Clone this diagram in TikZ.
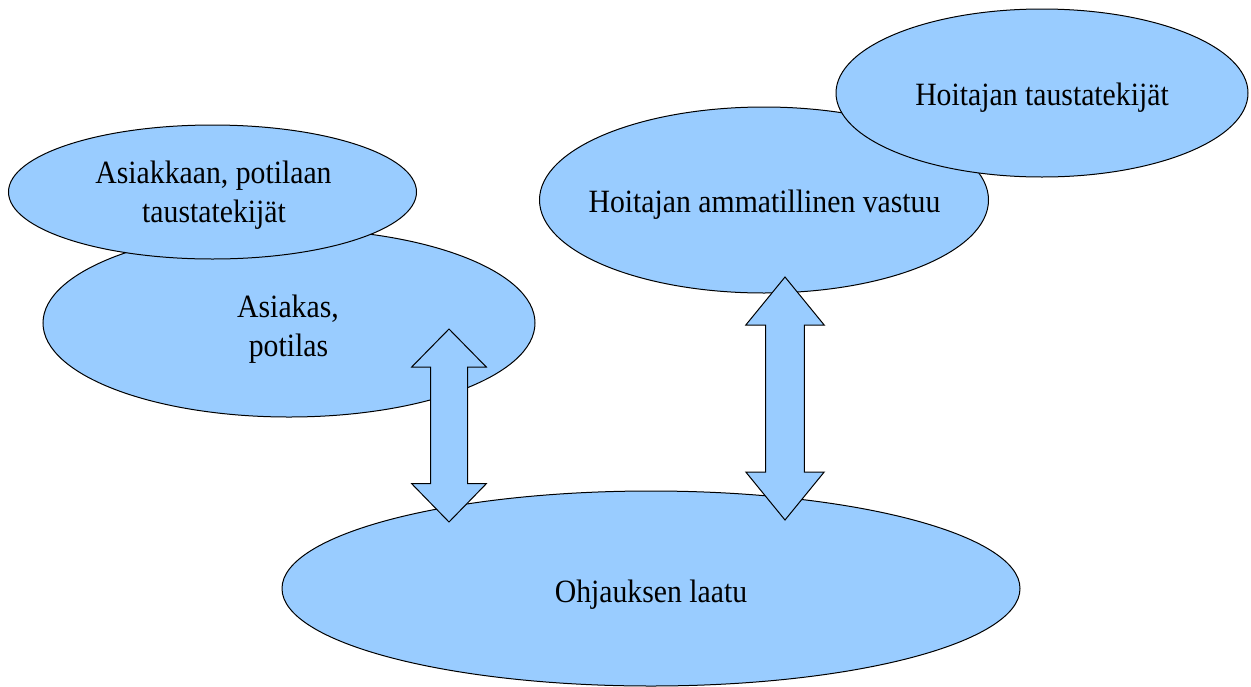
\documentclass[tikz,border=0pt]{standalone}
\usepackage{fontspec}
\setmainfont{Liberation Serif}[FakeStretch=0.915]
\usetikzlibrary{shapes.geometric}
\definecolor{fillblue}{HTML}{99CCFF}
\tikzset{
  bubble/.style={ellipse, draw=black, fill=fillblue, line width=1pt, inner sep=0pt},
  lbl/.style={anchor=base, inner sep=0pt, font=\fontsize{32.5}{39.5}\selectfont},
  blockarrow/.style={draw=black, fill=fillblue, line width=1pt, line join=miter},
}
\begin{document}
\begin{tikzpicture}[x=1pt, y=-1pt]
\useasboundingbox (0,0) rectangle (1251,686);
% Asiakas, potilas
\node[bubble, minimum width=492pt, minimum height=188pt] (asiakas) at (289,323) {};
\node[lbl] (asiakasA) at (288,317.3) {Asiakas,};
\node[lbl] (asiakasB) at (288.5,356.7) {potilas};
% Asiakkaan, potilaan taustatekijät
\node[bubble, minimum width=408pt, minimum height=134pt] (atausta) at (212.5,192) {};
\node[lbl] (ataustaA) at (213.5,183.3) {Asiakkaan, potilaan};
\node[lbl] (ataustaB) at (214,222.7) {taustatekijät};
% Hoitajan ammatillinen vastuu
\node[bubble, minimum width=449pt, minimum height=186pt] (vastuu) at (764,200) {};
\node[lbl] (vastuuT) at (764.5,212) {Hoitajan ammatillinen vastuu};
% Hoitajan taustatekijät
\node[bubble, minimum width=412pt, minimum height=168pt] (htausta) at (1042,93) {};
\node[lbl] (htaustaT) at (1042,105) {Hoitajan taustatekijät};
% Ohjauksen laatu
\node[bubble, minimum width=738pt, minimum height=195pt] (laatu) at (651,588.5) {};
\node[lbl] (laatuT) at (651,602) {Ohjauksen laatu};
% block arrows
\coordinate (a1top) at (449,329);
\coordinate (a1bot) at (449,522);
\coordinate (a2top) at (785,277);
\coordinate (a2bot) at (785,520);
\draw[blockarrow] (a1top) -- ([xshift=37.3pt,yshift=-38pt]a1top) -- ([xshift=18.5pt,yshift=-38pt]a1top)
  -- ([xshift=18.5pt,yshift=38.3pt]a1bot) -- ([xshift=37.3pt,yshift=38.3pt]a1bot) -- (a1bot)
  -- ([xshift=-37.3pt,yshift=38.3pt]a1bot) -- ([xshift=-18.5pt,yshift=38.3pt]a1bot)
  -- ([xshift=-18.5pt,yshift=-38pt]a1top) -- ([xshift=-37.3pt,yshift=-38pt]a1top) -- cycle;
\draw[blockarrow] (a2top) -- ([xshift=39.2pt,yshift=-48pt]a2top) -- ([xshift=19.4pt,yshift=-48pt]a2top)
  -- ([xshift=19.4pt,yshift=48pt]a2bot) -- ([xshift=39.2pt,yshift=48pt]a2bot) -- (a2bot)
  -- ([xshift=-39.2pt,yshift=48pt]a2bot) -- ([xshift=-19.4pt,yshift=48pt]a2bot)
  -- ([xshift=-19.4pt,yshift=-48pt]a2top) -- ([xshift=-39.2pt,yshift=-48pt]a2top) -- cycle;
\end{tikzpicture}
\end{document}
